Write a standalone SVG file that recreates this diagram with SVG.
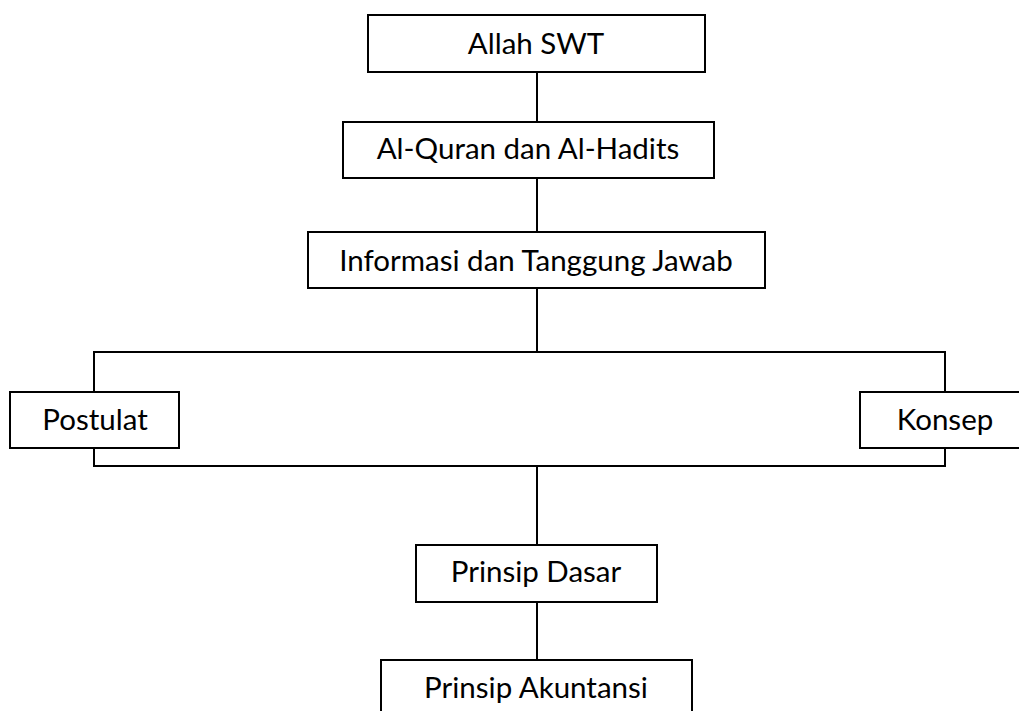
<svg xmlns="http://www.w3.org/2000/svg" width="1019" height="711" viewBox="0 0 1019 711">
<style>
.box{fill:#fff;stroke:#000;stroke-width:2}
.ln{fill:none;stroke:#000;stroke-width:2}
.t{font-family:Lato,"Open Sans","Liberation Sans",sans-serif;font-size:29.5px;fill:#000;text-anchor:middle}
</style>
<rect width="1019" height="711" fill="#fff"/>
<g id="connectors">
<line class="ln" x1="537" y1="72" x2="537" y2="122"/>
<line class="ln" x1="537" y1="178" x2="537" y2="232"/>
<line class="ln" x1="537" y1="288" x2="537" y2="352"/>
<polyline class="ln" points="94,392 94,352 945,352 945,392"/>
<polyline class="ln" points="94,448 94,466 945,466 945,448"/>
<line class="ln" x1="537" y1="466" x2="537" y2="545"/>
<line class="ln" x1="537" y1="602" x2="537" y2="660"/>
</g>
<g id="allah"><rect class="box" x="368" y="15" width="337" height="57"/><text class="t" x="536" y="54">Allah SWT</text></g>
<g id="quran"><rect class="box" x="343" y="122" width="371" height="56"/><text class="t" x="528" y="159">Al-Quran dan Al-Hadits</text></g>
<g id="informasi"><rect class="box" x="308" y="232" width="457" height="56"/><text class="t" x="536" y="271">Informasi dan Tanggung Jawab</text></g>
<g id="postulat"><rect class="box" x="10" y="392" width="169" height="56"/><text class="t" x="95" y="430">Postulat</text></g>
<g id="konsep"><rect class="box" x="860" y="392" width="170" height="56"/><text class="t" x="945" y="430">Konsep</text></g>
<g id="dasar"><rect class="box" x="416" y="545" width="241" height="57"/><text class="t" x="536" y="582">Prinsip Dasar</text></g>
<g id="akuntansi"><rect class="box" x="381" y="660" width="311" height="60"/><text class="t" x="536" y="698">Prinsip Akuntansi</text></g>
</svg>
